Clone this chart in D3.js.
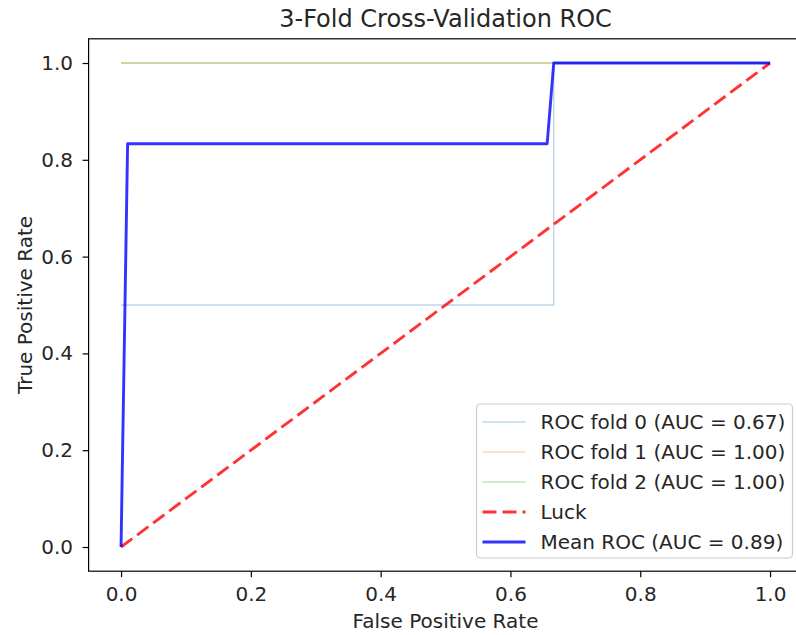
<!DOCTYPE html>
<html>
<head>
<meta charset="utf-8">
<script src="https://cdn.jsdelivr.net/npm/d3@7"></script>
<style>
  body { margin: 0; background: #fff; }
  svg text { font-family: "DejaVu Sans", sans-serif; fill: #262626; }
</style>
</head>
<body>
<svg width="796" height="635"></svg>
<script>
//fold curves (fpr / tpr)
var fold0Fpr = [0, 0.6667, 0.6667, 1],
    fold0Tpr = [0.5, 0.5, 1, 1],
    fold1Fpr = [0, 1],
    fold1Tpr = [1, 1],
    fold2Fpr = [0, 1],
    fold2Tpr = [1, 1];

//chance diagonal
var luckFpr = [0, 1],
    luckTpr = [0, 1];

//mean curve
var meanFpr = [0, 0.0101, 0.6566, 0.6667, 1],
    meanTpr = [0, 0.8333, 0.8333, 1, 1];

var legendLabels = ["ROC fold 0 (AUC = 0.67)", "ROC fold 1 (AUC = 1.00)",
    "ROC fold 2 (AUC = 1.00)", "Luck", "Mean ROC (AUC = 0.89)"];
var tickValues = [0, 0.2, 0.4, 0.6, 0.8, 1.0];

//visual sizes
var svg = d3.select("svg"),
    margin = { left: 88.6, top: 38.8, right: 802.5, bottom: 571.2 },
    fontSize = 20;

var scaleX = d3.scaleLinear().domain([-0.05, 1.05]).range([margin.left, margin.right]);
var scaleY = d3.scaleLinear().domain([-0.05, 1.05]).range([margin.bottom, margin.top]);

var series = [
    { fpr: fold0Fpr, tpr: fold0Tpr, color: "#1f77b4", opacity: 0.3, width: 1.4, dash: null },
    { fpr: fold1Fpr, tpr: fold1Tpr, color: "#ff7f0e", opacity: 0.3, width: 1.4, dash: null },
    { fpr: fold2Fpr, tpr: fold2Tpr, color: "#2ca02c", opacity: 0.3, width: 1.4, dash: null },
    { fpr: luckFpr, tpr: luckTpr, color: "#ff0000", opacity: 0.8, width: 2.9, dash: "14,6" },
    { fpr: meanFpr, tpr: meanTpr, color: "#0000ff", opacity: 0.8, width: 2.9, dash: null }
];

var line = d3.line()
    .x(d => scaleX(d[0]))
    .y(d => scaleY(d[1]));

var gLines = svg.append("g");
series.forEach(s => {
    gLines.append("path")
        .datum(s.fpr.map((f, i) => [f, s.tpr[i]]))
        .attr("d", line)
        .attr("fill", "none")
        .attr("stroke", s.color)
        .attr("stroke-opacity", s.opacity)
        .attr("stroke-width", s.width)
        .attr("stroke-dasharray", s.dash)
        .attr("stroke-linejoin", "round");
});

//axes
var axisX = d3.axisBottom(scaleX).tickValues(tickValues).tickFormat(d3.format(".1f"))
    .tickSize(6).tickPadding(10);
var axisY = d3.axisLeft(scaleY).tickValues(tickValues).tickFormat(d3.format(".1f"))
    .tickSize(6).tickPadding(9.5);

var gAxisX = svg.append("g")
    .attr("transform", "translate(0," + margin.bottom + ")")
    .call(axisX);
var gAxisY = svg.append("g")
    .attr("transform", "translate(" + margin.left + ",0)")
    .call(axisY);
[gAxisX, gAxisY].forEach(g => {
    g.select(".domain").remove();
    g.selectAll("line").attr("stroke", "#000").attr("stroke-width", 1.2);
    g.selectAll("text").attr("font-size", fontSize).attr("fill", "#262626")
        .attr("font-family", "DejaVu Sans");
});

//frame
svg.append("rect")
    .attr("x", margin.left)
    .attr("y", margin.top)
    .attr("width", margin.right - margin.left)
    .attr("height", margin.bottom - margin.top)
    .attr("fill", "none")
    .attr("stroke", "#000")
    .attr("stroke-width", 1.2);

//title and labels
svg.append("text")
    .attr("x", (margin.left + margin.right) / 2)
    .attr("y", 27)
    .attr("text-anchor", "middle")
    .attr("font-size", 24)
    .text("3-Fold Cross-Validation ROC");

svg.append("text")
    .attr("x", scaleX(0.5))
    .attr("y", 628)
    .attr("text-anchor", "middle")
    .attr("font-size", fontSize)
    .text("False Positive Rate");

svg.append("text")
    .attr("transform", "translate(31.5," + scaleY(0.5) + ") rotate(-90)")
    .attr("text-anchor", "middle")
    .attr("font-size", fontSize)
    .text("True Positive Rate");

//legend
var gLegend = svg.append("g")
    .attr("transform", "translate(476.5,404)");
gLegend.append("rect")
    .attr("width", 316)
    .attr("height", 154)
    .attr("rx", 4)
    .attr("fill", "#fff")
    .attr("fill-opacity", 0.8)
    .attr("stroke", "#cccccc")
    .attr("stroke-width", 1.2);
series.forEach((s, i) => {
    var y = 18 + i * 30;
    gLegend.append("line")
        .attr("x1", 6).attr("x2", 49)
        .attr("y1", y).attr("y2", y)
        .attr("stroke", s.color)
        .attr("stroke-opacity", s.opacity)
        .attr("stroke-width", s.width)
        .attr("stroke-dasharray", s.dash);
    gLegend.append("text")
        .attr("x", 64)
        .attr("y", y)
        .attr("dy", "0.36em")
        .attr("font-size", fontSize)
        .text(legendLabels[i]);
});
</script>
</body>
</html>
